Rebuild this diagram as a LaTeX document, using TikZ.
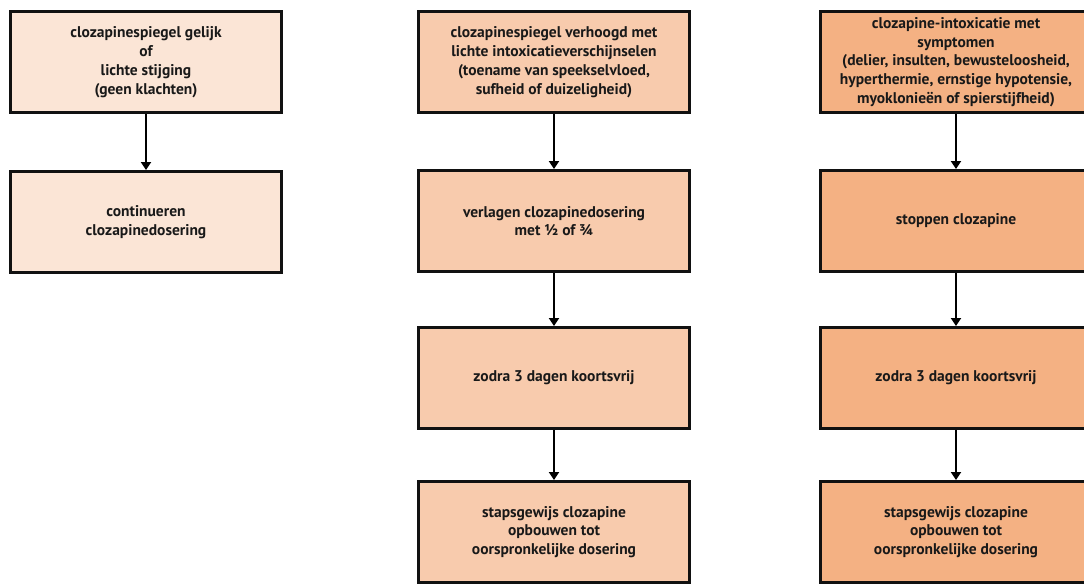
\documentclass[tikz,border=0pt]{standalone}
\usepackage{fontspec}
\setmainfont{PT Sans}
\usetikzlibrary{arrows.meta}
\definecolor{cA}{HTML}{FBE5D6}
\definecolor{cB}{HTML}{F8CBAD}
\definecolor{cC}{HTML}{F4B183}
\definecolor{edge}{HTML}{111111}
\tikzset{
  box/.style={draw=edge, line width=3pt, minimum width=271pt, minimum height=101pt,
    align=center, inner sep=0pt, font=\bfseries\fontsize{15.5}{18.8}\selectfont, text=black!90},
  arr/.style={draw=black, line width=2.8pt, -{Triangle[width=10pt,length=8pt]}}
}
\begin{document}
\begin{tikzpicture}[x=1pt,y=-1pt]
\useasboundingbox (0,0) rectangle (1084,586);
% column 1
\node[box, fill=cA] (a1) at (146,62) {clozapinespiegel gelijk\\of\\lichte stijging\\(geen klachten)};
\node[box, fill=cA] (a2) at (146,222) {continueren\\clozapinedosering};
% column 2
\node[box, fill=cB] (b1) at (554,62) {clozapinespiegel verhoogd met\\lichte intoxicatieverschijnselen\\(toename van speekselvloed,\\sufheid of duizeligheid)};
\node[box, fill=cB] (b2) at (554,221) {verlagen clozapinedosering\\met ½ of ¾};
\node[box, fill=cB] (b3) at (554,378) {zodra 3 dagen koortsvrij};
\node[box, fill=cB] (b4) at (554,532) {stapsgewijs clozapine\\opbouwen tot\\oorspronkelijke dosering};
% column 3
\node[box, fill=cC] (c1) at (956,62) {clozapine-intoxicatie met\\symptomen\\(delier, insulten, bewusteloosheid,\\hyperthermie, ernstige hypotensie,\\myoklonieën of spierstijfheid)};
\node[box, fill=cC] (c2) at (956,221) {stoppen clozapine};
\node[box, fill=cC] (c3) at (956,378) {zodra 3 dagen koortsvrij};
\node[box, fill=cC] (c4) at (956,532) {stapsgewijs clozapine\\opbouwen tot\\oorspronkelijke dosering};
% arrows
\draw[arr] (a1) -- (a2);
\draw[arr] (b1) -- (b2);
\draw[arr] (b2) -- (b3);
\draw[arr] (b3) -- (b4);
\draw[arr] (c1) -- (c2);
\draw[arr] (c2) -- (c3);
\draw[arr] (c3) -- (c4);
\end{tikzpicture}
\end{document}
